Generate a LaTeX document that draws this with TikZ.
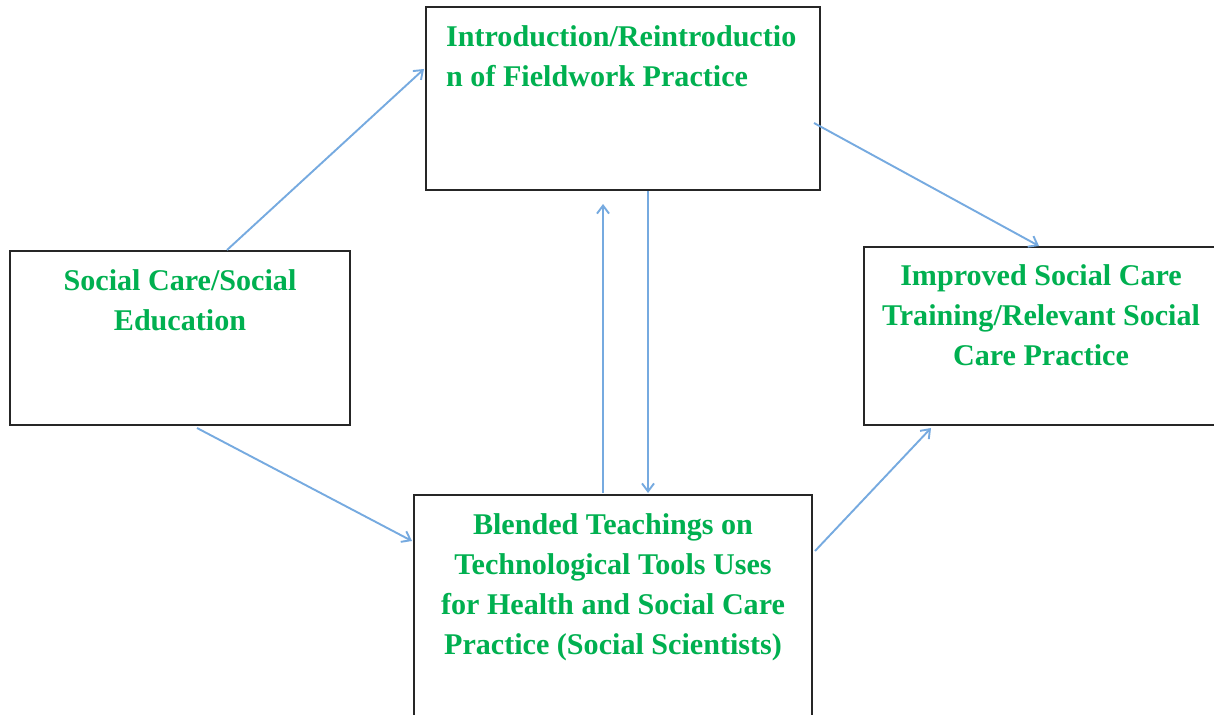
\documentclass[tikz,border=0pt]{standalone}
\usepackage{fontspec}
\setmainfont{Liberation Serif}
\usetikzlibrary{arrows.meta,calc}
\definecolor{txtgreen}{RGB}{0,176,80}
\definecolor{arrblue}{RGB}{118,170,224}
\begin{document}
\begin{tikzpicture}[x=1pt,y=-1pt,
  box/.style={draw=black!85,line width=2pt,rectangle,inner sep=0pt},
  lbl/.style={text=txtgreen,font=\fontsize{30.1}{40}\selectfont\bfseries,inner sep=0pt},
  conn/.style={draw=arrblue,line width=1.9pt,-{Straight Barb[length=8pt,width=12pt,line width=1.9pt]}}]
\useasboundingbox[fill=white] (0,0) rectangle (1214,714);
% boxes
\node[box,minimum width=394pt,minimum height=183pt] (topb) at (623,98.5) {};
\node[box,minimum width=340pt,minimum height=174pt] (leftb) at (180,338) {};
\node[box,minimum width=360pt,minimum height=178pt] (rightb) at (1044,336) {};
\node[box,minimum width=398pt,minimum height=250pt] (botb) at (613,620) {};
% texts
\node[lbl,anchor=north west,align=left] (topt) at (446,25) {Introduction/Reintroductio\\n of Fieldwork Practice};
\node[lbl,anchor=north,align=center] (leftt) at (180,269) {Social Care/Social\\Education};
\node[lbl,anchor=north,align=center] (rightt) at (1041,264) {Improved Social Care\\Training/Relevant Social\\Care Practice};
\node[lbl,anchor=north,align=center] (bott) at (613,513) {Blended Teachings on\\Technological Tools Uses\\for Health and Social Care\\Practice (Social Scientists)};
% connector end points
\coordinate (c1s) at ($(leftb.north west)+(218,0)$);
\coordinate (c1e) at ($(topb.north west)+(-1,63)$);
\coordinate (c2s) at ($(topb.north east)+(-7,117)$);
\coordinate (c2e) at ($(rightb.north west)+(176,0)$);
\coordinate (c3s) at ($(botb.north west)+(190,-1)$);
\coordinate (c3e) at ($(topb.south west)+(178,13)$);
\coordinate (c4s) at ($(topb.south west)+(223,0)$);
\coordinate (c4e) at ($(botb.north west)+(235,-1)$);
\coordinate (c5s) at ($(leftb.south west)+(188,2)$);
\coordinate (c5e) at ($(botb.north west)+(-1,47)$);
\coordinate (c6s) at ($(botb.north east)+(2,57)$);
\coordinate (c6e) at ($(rightb.south west)+(68,2)$);
\draw[conn] (c1s) -- (c1e);
\draw[conn] (c2s) -- (c2e);
\draw[conn] (c3s) -- (c3e);
\draw[conn] (c4s) -- (c4e);
\draw[conn] (c5s) -- (c5e);
\draw[conn] (c6s) -- (c6e);
\end{tikzpicture}
\end{document}
